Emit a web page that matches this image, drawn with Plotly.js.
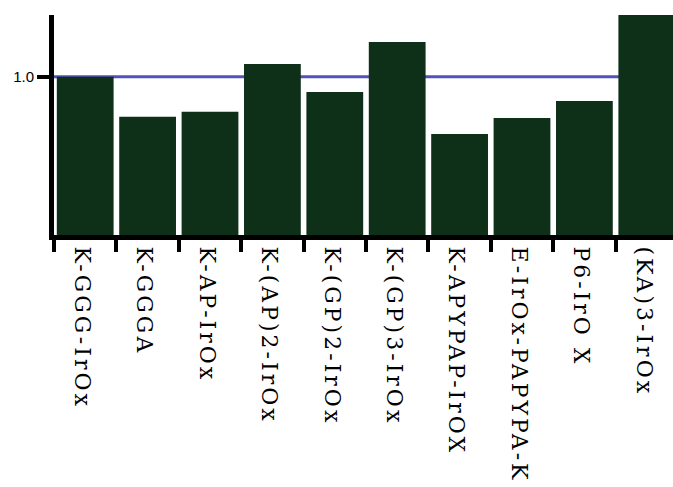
<!DOCTYPE html>
<html>
<head>
<meta charset="utf-8">
<script src="https://cdn.plot.ly/plotly-3.0.1.min.js"></script>
<style>
  html, body { margin: 0; padding: 0; background: #fff; }
  #chart { width: 673px; height: 487px; }
  .xtick text { letter-spacing: 3px; }
</style>
</head>
<body>
<div id="chart"></div>
<script>
const categories = ["K-GGG-IrOx", "K-GGGA", "K-AP-IrOx", "K-(AP)2-IrOx", "K-(GP)2-IrOx",
                    "K-(GP)3-IrOx", "K-APYPAP-IrOX", "E-IrOx-PAPYPA-K", "P6-IrO X", "(KA)3-IrOx"];
const values = [1.0, 0.747, 0.779, 1.08, 0.903, 1.219, 0.638, 0.739, 0.846, 1.39];
const refValue = 1.0;
const yTickVals = [1.0];
const yTickText = ["1.0"];

const trace = {
  type: "bar",
  x: categories,
  y: values,
  marker: { color: "#0e2f18", line: { width: 0 } },
  hoverinfo: "x+y"
};

const layout = {
  width: 673,
  height: 487,
  margin: { l: 54, r: 0, t: 15, b: 252, pad: 0 },
  paper_bgcolor: "#ffffff",
  plot_bgcolor: "#ffffff",
  showlegend: false,
  bargap: 0.09,
  xaxis: {
    type: "category",
    range: [-0.5, 9.42],
    showgrid: false,
    zeroline: false,
    showline: true,
    linecolor: "#000000",
    linewidth: 5,
    ticks: "outside",
    tickson: "boundaries",
    ticklen: 12,
    tickwidth: 4,
    tickcolor: "#000000",
    tickangle: 90,
    ticklabelstandoff: 2,
    ticklabelshift: -3,
    tickfont: { family: "'DejaVu Serif', serif", size: 22, color: "#000000" },
    fixedrange: true
  },
  yaxis: {
    range: [0, 1.39],
    showgrid: false,
    zeroline: false,
    showline: true,
    linecolor: "#000000",
    linewidth: 5,
    ticks: "outside",
    ticklen: 12,
    tickwidth: 4,
    tickcolor: "#000000",
    tickvals: yTickVals,
    ticktext: yTickText,
    tickfont: { family: "'Liberation Sans', Arial, sans-serif", size: 15, color: "#000000" },
    fixedrange: true
  },
  shapes: [{
    type: "line",
    xref: "paper", yref: "y",
    x0: 0, x1: 1, y0: refValue, y1: refValue,
    layer: "below",
    line: { color: "#5252b8", width: 3 }
  }]
};

Plotly.newPlot("chart", [trace], layout, { displayModeBar: false, staticPlot: true });
</script>
</body>
</html>
